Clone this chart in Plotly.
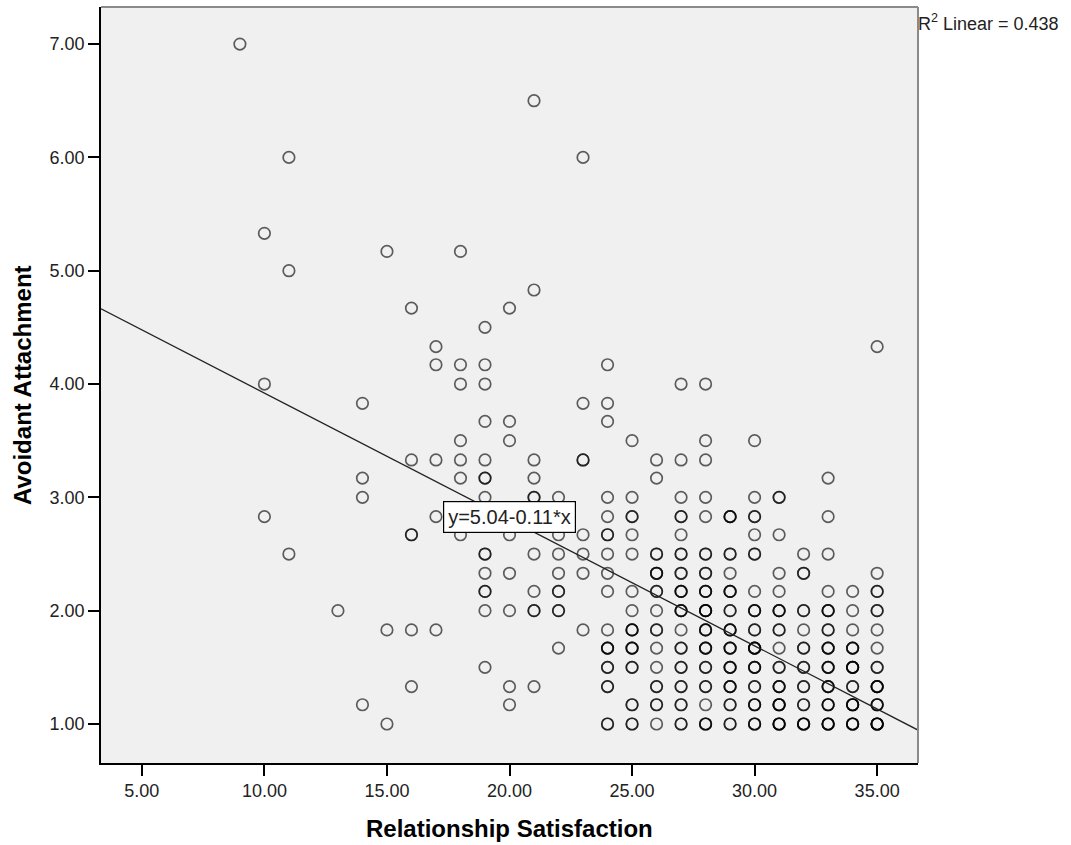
import plotly.graph_objects as go

# ---- data (x = satisfaction, y = avoidance, n = overlapping cases) ----
sat = [
    9, 21, 11, 23, 10, 11, 15, 18, 21, 16, 20, 19, 17, 17, 18, 19, 24, 10, 18, 19, 27, 28,
    14, 23, 24, 19, 20, 24, 18, 20, 25, 28, 30, 16, 17, 18, 19, 21, 23, 26, 27, 28,
    14, 18, 19, 21, 26, 33, 35,
    14, 19, 21, 22, 24, 25, 27, 28, 30, 31,
    10, 17, 19, 20, 21, 22, 24, 25, 27, 28, 29, 30, 33,
    16, 18, 20, 22, 23, 24, 25, 27, 30, 31,
    11, 19, 21, 22, 23, 24, 25, 26, 27, 28, 29, 30, 32, 33,
    19, 20, 22, 23, 24, 26, 27, 28, 29, 31, 32, 35,
    19, 21, 22, 24, 25, 26, 27, 28, 29, 30, 31, 33, 34, 35,
    13, 19, 20, 21, 22, 25, 26, 27, 28, 29, 30, 31, 32, 33, 34, 35,
    15, 16, 17, 23, 24, 25, 26, 27, 28, 29, 30, 31, 32, 33, 34, 35,
    22, 24, 25, 26, 27, 28, 29, 30, 31, 32, 33, 34, 35,
    19, 24, 25, 26, 27, 28, 29, 30, 31, 32, 33, 34, 35,
    16, 20, 21, 24, 26, 27, 28, 29, 30, 31, 32, 33, 34, 35,
    14, 20, 25, 26, 27, 28, 29, 30, 31, 32, 33, 34, 35,
    15, 24, 25, 26, 27, 28, 29, 30, 31, 32, 33, 34, 35,
]
avoid = [
    7.00, 6.50, 6.00, 6.00, 5.33, 5.00, 5.17, 5.17, 4.83, 4.67, 4.67, 4.50, 4.33, 4.17, 4.17, 4.17, 4.17, 4.00, 4.00, 4.00, 4.00, 4.00,
    3.83, 3.83, 3.83, 3.67, 3.67, 3.67, 3.50, 3.50, 3.50, 3.50, 3.50, 3.33, 3.33, 3.33, 3.33, 3.33, 3.33, 3.33, 3.33, 3.33,
    3.17, 3.17, 3.17, 3.17, 3.17, 3.17, 4.33,
    3.00, 3.00, 3.00, 3.00, 3.00, 3.00, 3.00, 3.00, 3.00, 3.00,
    2.83, 2.83, 2.83, 2.83, 2.83, 2.83, 2.83, 2.83, 2.83, 2.83, 2.83, 2.83, 2.83,
    2.67, 2.67, 2.67, 2.67, 2.67, 2.67, 2.67, 2.67, 2.67, 2.67,
    2.50, 2.50, 2.50, 2.50, 2.50, 2.50, 2.50, 2.50, 2.50, 2.50, 2.50, 2.50, 2.50, 2.50,
    2.33, 2.33, 2.33, 2.33, 2.33, 2.33, 2.33, 2.33, 2.33, 2.33, 2.33, 2.33,
    2.17, 2.17, 2.17, 2.17, 2.17, 2.17, 2.17, 2.17, 2.17, 2.17, 2.17, 2.17, 2.17, 2.17,
    2.00, 2.00, 2.00, 2.00, 2.00, 2.00, 2.00, 2.00, 2.00, 2.00, 2.00, 2.00, 2.00, 2.00, 2.00, 2.00,
    1.83, 1.83, 1.83, 1.83, 1.83, 1.83, 1.83, 1.83, 1.83, 1.83, 1.83, 1.83, 1.83, 1.83, 1.83, 1.83,
    1.67, 1.67, 1.67, 1.67, 1.67, 1.67, 1.67, 1.67, 1.67, 1.67, 1.67, 1.67, 1.67,
    1.50, 1.50, 1.50, 1.50, 1.50, 1.50, 1.50, 1.50, 1.50, 1.50, 1.50, 1.50, 1.50,
    1.33, 1.33, 1.33, 1.33, 1.33, 1.33, 1.33, 1.33, 1.33, 1.33, 1.33, 1.33, 1.33, 1.33,
    1.17, 1.17, 1.17, 1.17, 1.17, 1.17, 1.17, 1.17, 1.17, 1.17, 1.17, 1.17, 1.17,
    1.00, 1.00, 1.00, 1.00, 1.00, 1.00, 1.00, 1.00, 1.00, 1.00, 1.00, 1.00, 1.00,
]
counts = [
    1, 1, 1, 1, 1, 1, 1, 1, 1, 1, 1, 1, 1, 1, 1, 1, 1, 1, 1, 1, 1, 1,
    1, 1, 1, 1, 1, 1, 1, 1, 1, 1, 1, 1, 1, 1, 1, 1, 2, 1, 1, 1,
    1, 1, 2, 1, 1, 1, 1,
    1, 1, 2, 1, 1, 1, 1, 1, 1, 2,
    1, 1, 1, 1, 1, 1, 1, 2, 2, 1, 3, 2, 1,
    2, 1, 1, 1, 1, 2, 1, 1, 1, 1,
    1, 2, 1, 1, 1, 1, 1, 2, 2, 2, 2, 2, 1, 1,
    1, 1, 1, 1, 1, 3, 2, 2, 1, 1, 2, 1,
    2, 1, 2, 1, 1, 2, 3, 3, 3, 1, 1, 1, 1, 2,
    1, 1, 1, 2, 2, 1, 1, 3, 4, 2, 3, 3, 2, 3, 1, 2,
    1, 1, 1, 1, 1, 3, 2, 1, 3, 3, 2, 2, 1, 2, 1, 1,
    1, 3, 3, 1, 2, 3, 3, 4, 1, 2, 3, 3, 1,
    1, 2, 2, 1, 2, 2, 3, 3, 2, 2, 3, 4, 2,
    1, 1, 1, 2, 2, 2, 2, 3, 2, 3, 2, 3, 2, 4,
    1, 1, 2, 2, 2, 1, 2, 3, 4, 2, 3, 4, 3,
    1, 2, 2, 1, 2, 3, 2, 3, 4, 4, 4, 4, 5,
]

fit_intercept = 5.035
fit_slope = -0.1115
fit_label = "y=5.04-0.11*x"
r2_label = "R<sup>2</sup> Linear = 0.438"

x_ticks = [5, 10, 15, 20, 25, 30, 35]
y_ticks = [1, 2, 3, 4, 5, 6, 7]
x_range = [3.333, 36.667]
y_range = [0.656, 7.327]

# expand overlapping cases so that stacked rings darken like the original
xs, ys = [], []
for xv, yv, n in zip(sat, avoid, counts):
    xs.extend([xv] * n)
    ys.extend([yv] * n)

FONT = "Liberation Sans, Arial, sans-serif"

fig = go.Figure()
fig.add_trace(go.Scatter(
    x=xs, y=ys, mode="markers",
    marker=dict(symbol="circle-open", size=11.5, color="rgba(0,0,0,0.62)",
                line=dict(width=1.7)),
    hoverinfo="x+y", showlegend=False,
))
fit_x = list(x_range)
fit_y = [fit_intercept + fit_slope * v for v in fit_x]
fig.add_trace(go.Scatter(
    x=fit_x, y=fit_y, mode="lines",
    line=dict(color="#222222", width=1.3), showlegend=False, hoverinfo="skip",
))

axis_common = dict(
    showgrid=False, zeroline=False, showline=True, linecolor="black", linewidth=1.6,
    ticks="outside", ticklen=11, tickwidth=1.5, tickcolor="black",
    tickfont=dict(family=FONT, size=18, color="#222222"), tickformat=".2f",
)
fig.update_xaxes(range=x_range, tickvals=x_ticks, **axis_common)
fig.update_yaxes(range=y_range, tickvals=y_ticks, **axis_common)

fig.update_layout(
    width=1071, height=845,
    margin=dict(l=101, r=153, t=7, b=82),
    paper_bgcolor="white", plot_bgcolor="#F0F0F0",
    font=dict(family=FONT, color="black"),
    shapes=[
        dict(type="line", xref="paper", yref="paper", x0=0, x1=1, y0=1, y1=1,
             line=dict(color="#8a8a8a", width=2)),
        dict(type="line", xref="paper", yref="paper", x0=1, x1=1, y0=0, y1=1,
             line=dict(color="#8a8a8a", width=2)),
    ],
    annotations=[
        dict(text="Relationship Satisfaction", xref="paper", yref="paper",
             x=0.5, y=-0.086, xanchor="center", yanchor="middle", showarrow=False,
             font=dict(family=FONT, size=24, color="black", weight="bold")),
        dict(text="Avoidant Attachment", xref="paper", yref="paper",
             x=-0.0967, y=0.5, xanchor="center", yanchor="middle", showarrow=False,
             textangle=-90,
             font=dict(family=FONT, size=24, color="black", weight="bold")),
        dict(text=r2_label, xref="paper", yref="paper", x=0.997, y=0.979,
             xanchor="left", yanchor="middle", showarrow=False,
             font=dict(family=FONT, size=18, color="#222222")),
        dict(text=fit_label, xref="x", yref="y", x=20, y=2.83,
             xanchor="center", yanchor="middle", showarrow=False,
             bgcolor="white", bordercolor="black", borderwidth=1.2, borderpad=4,
             font=dict(family=FONT, size=20, color="#222222")),
    ],
)

fig.write_html("out.html")
